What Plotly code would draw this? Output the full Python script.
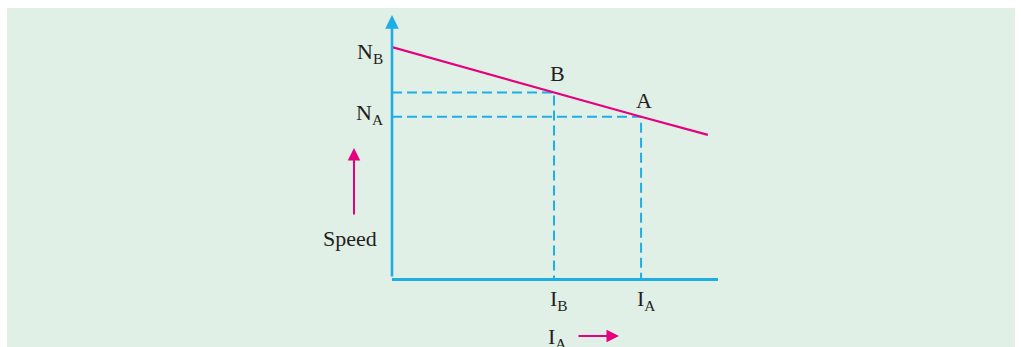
import plotly.graph_objects as go

# ---- data ----
current = [0.0, 4.97, 7.64, 9.69]          # armature current along the speed line
speed = [8.78, 7.05, 6.13, 5.44]           # speed values along the line
point_names = ["B", "A"]
point_current = [4.97, 7.64]
point_speed = [7.05, 6.13]
y_tick_labels = ["N<sub>B</sub>", "N<sub>A</sub>"]
y_tick_values = [8.78, 6.13]
x_tick_labels = ["I<sub>B</sub>", "I<sub>A</sub>"]

MAGENTA = "#e6007e"
CYAN = "#1eaee6"
TEXT = "#231f20"
GREEN = "#e1f0e6"
FONT = "Liberation Serif"
FS = 22

# figure / plot area in pixels (for paper-coordinate decorations)
W, H = 1021, 360
L, R, T, B = 392, 718, 15, 278


def px(xp):
    return (xp - L) / (R - L)


def py(yp):
    return (B - yp) / (B - T)


fig = go.Figure()

# dashed projection lines
for xi, yi in zip(point_current, point_speed):
    fig.add_trace(go.Scatter(
        x=[0, xi, xi], y=[yi, yi, 0], mode="lines",
        line=dict(color=CYAN, width=2, dash="10px,5px"),
        hoverinfo="skip", showlegend=False, cliponaxis=False))

# speed line
fig.add_trace(go.Scatter(
    x=current, y=speed, mode="lines",
    line=dict(color=MAGENTA, width=2.2),
    hoverinfo="skip", showlegend=False, cliponaxis=False))

ann = []
# y axis with arrow
ann.append(dict(x=0, y=10, ax=0, ay=0, xref="x", yref="y", axref="x", ayref="y",
                showarrow=True, arrowhead=2, arrowsize=1.05, arrowwidth=2.6,
                arrowcolor=CYAN, text="", standoff=0, startstandoff=0))
# y labels
for txt, val, ys in zip(y_tick_labels, y_tick_values, [-6, 3]):
    ann.append(dict(x=0, y=val, xref="x", yref="y", text=txt, showarrow=False,
                    xanchor="right", yanchor="middle", xshift=-7, yshift=ys,
                    font=dict(family=FONT, size=FS, color=TEXT)))
# point labels
for name, xi, yi, ys in zip(point_names, point_current, point_speed, [5, 2]):
    ann.append(dict(x=xi, y=yi, xref="x", yref="y", text=name, showarrow=False,
                    xanchor="center", yanchor="bottom", xshift=3, yshift=ys,
                    font=dict(family=FONT, size=FS, color=TEXT)))
# x labels
for txt, xi in zip(x_tick_labels, point_current):
    ann.append(dict(x=xi, y=0, xref="x", yref="y", text=txt, showarrow=False,
                    xanchor="center", yanchor="top", xshift=5, yshift=-6,
                    font=dict(family=FONT, size=FS, color=TEXT)))
# Speed label and arrow
ann.append(dict(x=px(350), y=py(238), xref="paper", yref="paper", text="Speed",
                showarrow=False, xanchor="center", yanchor="middle",
                font=dict(family=FONT, size=FS, color=TEXT)))
ann.append(dict(x=px(354), y=py(148), xref="paper", yref="paper", ax=0, ay=68,
                showarrow=True, arrowhead=2, arrowsize=1.25,
                arrowwidth=2, arrowcolor=MAGENTA, text="", standoff=0))
# bottom I_A label and arrow
ann.append(dict(x=px(557), y=py(338), xref="paper", yref="paper", text="I<sub>A</sub>",
                showarrow=False, xanchor="center", yanchor="middle",
                font=dict(family=FONT, size=FS, color=TEXT)))
ann.append(dict(x=px(619), y=py(336), xref="paper", yref="paper", ax=-42, ay=0,
                showarrow=True, arrowhead=2, arrowsize=1.25,
                arrowwidth=2, arrowcolor=MAGENTA, text="", standoff=0))

white = dict(fillcolor="white", line=dict(width=0), layer="below",
             type="rect", xref="paper", yref="paper")
fig.update_layout(
    width=W, height=H,
    margin=dict(l=L, r=W - R, t=T, b=H - B, pad=0),
    paper_bgcolor=GREEN, plot_bgcolor="rgba(0,0,0,0)",
    xaxis=dict(range=[0, 10], showgrid=False, zeroline=False, showticklabels=False,
               ticks="", showline=True, linecolor=CYAN, linewidth=2.6, fixedrange=True),
    yaxis=dict(range=[0, 10], showgrid=False, zeroline=False, showticklabels=False,
               ticks="", showline=False, fixedrange=True),
    shapes=[
        dict(white, x0=px(-10), x1=px(7), y0=py(400), y1=py(-10)),
        dict(white, x0=px(-10), x1=px(1030), y0=py(8), y1=py(-10)),
        dict(white, x0=px(1015), x1=px(1030), y0=py(400), y1=py(-10)),
    ],
    annotations=ann,
    showlegend=False,
)

fig.write_html("out.html", config={"displayModeBar": False},
               post_script="document.body.style.margin='0';document.body.style.overflow='hidden';"
                           "document.body.style.background='" + GREEN + "';"
                           "document.documentElement.style.background='" + GREEN + "';")
